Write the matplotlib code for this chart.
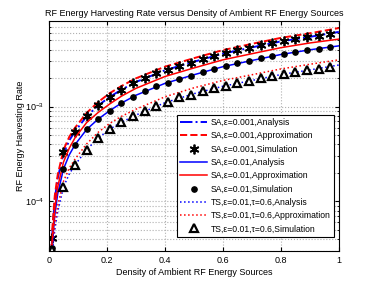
import numpy as np
import matplotlib
matplotlib.use("Agg")
import matplotlib.pyplot as plt

plt.rcParams['font.family'] = ['Liberation Sans', 'DejaVu Sans']
plt.rcParams['mathtext.fontset'] = 'custom'
plt.rcParams['mathtext.rm'] = 'Liberation Sans'
plt.rcParams['mathtext.it'] = 'Liberation Sans:italic'

# simulation points (markers)
x_sim = [0.01, 0.05, 0.09, 0.13, 0.17, 0.21, 0.25, 0.29, 0.33, 0.37, 0.41, 0.45, 0.49,
         0.53, 0.57, 0.61, 0.65, 0.69, 0.73, 0.77, 0.81, 0.85, 0.89, 0.93, 0.97]
sa001_sim = [4.1e-5, 3.3e-4, 5.45e-4, 7.9e-4, 1.04e-3, 1.27e-3, 1.51e-3, 1.76e-3, 1.99e-3,
             2.26e-3, 2.45e-3, 2.70e-3, 2.90e-3, 3.18e-3, 3.42e-3, 3.68e-3, 3.92e-3, 4.15e-3,
             4.46e-3, 4.72e-3, 4.96e-3, 5.16e-3, 5.42e-3, 5.63e-3, 5.91e-3]
sa01_sim = [3.2e-5, 2.21e-4, 3.98e-4, 5.75e-4, 7.42e-4, 9.08e-4, 1.09e-3, 1.27e-3, 1.47e-3,
            1.65e-3, 1.79e-3, 1.97e-3, 2.12e-3, 2.32e-3, 2.50e-3, 2.69e-3, 2.86e-3, 3.03e-3,
            3.26e-3, 3.42e-3, 3.60e-3, 3.76e-3, 3.95e-3, 4.06e-3, 4.21e-3]
ts_sim = [3.1e-5, 1.42e-4, 2.43e-4, 3.52e-4, 4.67e-4, 5.82e-4, 6.84e-4, 7.9e-4, 8.9e-4,
          1.02e-3, 1.13e-3, 1.25e-3, 1.34e-3, 1.45e-3, 1.57e-3, 1.66e-3, 1.76e-3, 1.86e-3,
          1.99e-3, 2.10e-3, 2.21e-3, 2.33e-3, 2.41e-3, 2.51e-3, 2.64e-3]

# analysis / approximation curves
x_line = [0.005, 0.01, 0.02, 0.03, 0.05, 0.07, 0.09, 0.13, 0.17, 0.21, 0.25, 0.3,
          0.4, 0.5, 0.6, 0.7, 0.8, 0.9, 1.0]
sa001_ana = [1.2e-5, 4.0e-5, 1.05e-4, 1.75e-4, 3.2e-4, 4.4e-4, 5.5e-4, 7.9e-4, 1.03e-3,
             1.27e-3, 1.51e-3, 1.82e-3, 2.42e-3, 2.98e-3, 3.62e-3, 4.22e-3, 4.88e-3, 5.45e-3, 6.15e-3]
sa001_app = [1.4e-5, 4.5e-5, 1.15e-4, 1.9e-4, 3.5e-4, 4.8e-4, 6.0e-4, 8.6e-4, 1.12e-3,
             1.39e-3, 1.65e-3, 1.99e-3, 2.64e-3, 3.25e-3, 3.95e-3, 4.6e-3, 5.32e-3, 5.95e-3, 6.75e-3]
sa01_ana = [1.0e-5, 3.0e-5, 7.2e-5, 1.2e-4, 2.2e-4, 3.1e-4, 3.98e-4, 5.75e-4, 7.4e-4,
            9.1e-4, 1.09e-3, 1.32e-3, 1.76e-3, 2.17e-3, 2.64e-3, 3.07e-3, 3.55e-3, 3.98e-3, 4.38e-3]
sa01_app = [1.2e-5, 3.6e-5, 8.5e-5, 1.42e-4, 2.6e-4, 3.65e-4, 4.7e-4, 6.8e-4, 8.7e-4,
            1.07e-3, 1.29e-3, 1.56e-3, 2.08e-3, 2.56e-3, 3.12e-3, 3.62e-3, 4.19e-3, 4.7e-3, 5.16e-3]
ts_ana = [8e-6, 2.6e-5, 5.0e-5, 7.8e-5, 1.42e-4, 1.95e-4, 2.43e-4, 3.52e-4, 4.67e-4,
          5.8e-4, 6.85e-4, 8.15e-4, 1.1e-3, 1.37e-3, 1.64e-3, 1.89e-3, 2.18e-3, 2.44e-3, 2.75e-3]
ts_app = [9e-6, 3.2e-5, 5.8e-5, 9.0e-5, 1.63e-4, 2.25e-4, 2.8e-4, 4.05e-4, 5.37e-4,
          6.67e-4, 7.9e-4, 9.4e-4, 1.27e-3, 1.58e-3, 1.89e-3, 2.17e-3, 2.5e-3, 2.8e-3, 3.12e-3]

blue = '#0000ff'
red = '#ff0000'

fig = plt.figure(figsize=(3.74, 2.81), dpi=100)
ax = fig.add_axes([0.131, 0.107, 0.775, 0.818])

ax.plot(x_line, sa001_ana, '-.', color=blue, lw=1.4, label='SA,ε=0.001,Analysis')
ax.plot(x_line, sa001_app, '--', color=red, lw=1.4, label='SA,ε=0.001,Approximation')
ax.plot(x_sim, sa001_sim, marker=(6, 2, 0), color='k', ms=7, mew=1.3, linestyle='none',
        label='SA,ε=0.001,Simulation')
ax.plot(x_line, sa01_ana, '-', color=blue, lw=1.1, label='SA,ε=0.01,Analysis')
ax.plot(x_line, sa01_app, '-', color=red, lw=1.1, label='SA,ε=0.01,Approximation')
ax.plot(x_sim, sa01_sim, 'o', color='k', ms=3.8, label='SA,ε=0.01,Simulation')
ax.plot(x_line, ts_ana, ':', color=blue, lw=1.1, label='TS,ε=0.01,τ=0.6,Analysis')
ax.plot(x_line, ts_app, ':', color=red, lw=1.1, label='TS,ε=0.01,τ=0.6,Approximation')
ax.plot(x_sim, ts_sim, '^', mfc='white', mec='k', ms=5.2, mew=1.6, linestyle='none',
        label='TS,ε=0.01,τ=0.6,Simulation')

ax.set_yscale('log')
ax.set_xlim(0, 1)
ax.set_ylim(3e-5, 8e-3)
ax.set_xticks([0, 0.2, 0.4, 0.6, 0.8, 1])
ax.set_xticklabels(['0', '0.2', '0.4', '0.6', '0.8', '1'])
ax.grid(True, which='major', linestyle=':', color='#b0b0b0', lw=0.8)
ax.grid(True, which='minor', axis='y', linestyle=':', color='#b0b0b0', lw=0.8)
ax.tick_params(which='both', direction='in', top=True, right=True, labelsize=6.5)
ax.tick_params(which='major', length=3)
ax.tick_params(which='minor', length=1.5)
for s in ax.spines.values():
    s.set_linewidth(0.8)

ax.set_title('RF Energy Harvesting Rate versus Density of Ambient RF Energy Sources', fontsize=6.5, pad=4)
ax.set_xlabel('Density of Ambient RF Energy Sources', fontsize=6.5, labelpad=2)
ax.set_ylabel('RF Energy Harvesting Rate', fontsize=6.5, labelpad=0)

leg = ax.legend(loc='lower right', bbox_to_anchor=(0.983, 0.061), borderaxespad=0,
                fontsize=6.2, handlelength=3.1, labelspacing=0.5, fancybox=False,
                edgecolor='k', framealpha=1, borderpad=0.4, handletextpad=0.4)
leg.get_frame().set_linewidth(0.8)

fig.savefig('out.png', dpi=100)
